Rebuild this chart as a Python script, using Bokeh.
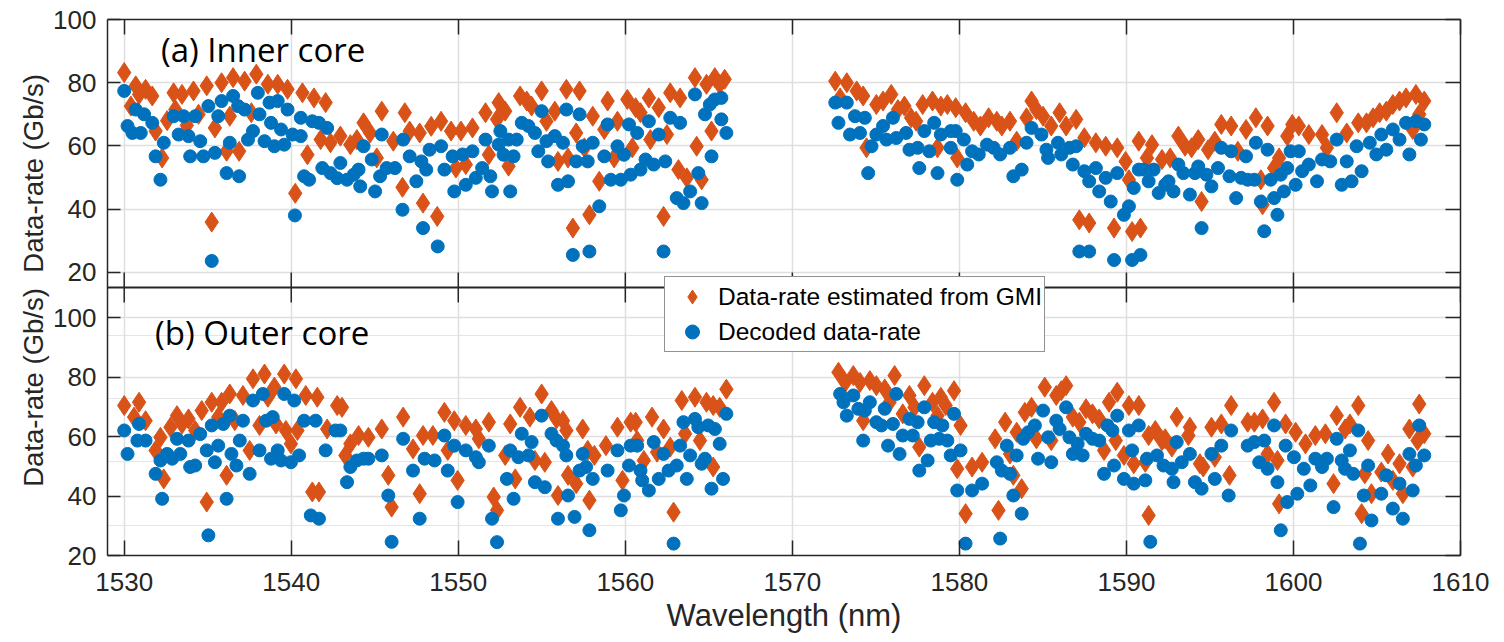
from math import pi
from bokeh.plotting import figure
from bokeh.layouts import row
from bokeh.models import (Range1d, LinearAxis, FixedTicker, CustomJSTickFormatter,
                          CustomLabelingPolicy, Grid, Span, Label, Legend, LegendItem)
from bokeh.core.properties import value
from bokeh.embed import file_html
from bokeh.resources import INLINE

# ------------------------------------------------------------------ data
x_ticks = [1530, 1540, 1550, 1560, 1570, 1580, 1590, 1600, 1610]
y_ticks = [20, 40, 60, 80, 100]
panel_titles = ["(a) Inner core", "(b) Outer core"]
legend_labels = ["Data-rate estimated from GMI", "Decoded data-rate"]
x_title = "Wavelength (nm)"
y_title = "Data-rate (Gb/s)"

# (a) inner core - data-rate estimated from GMI
inner_gmi_wl = [
    1530.00, 1530.40, 1530.69, 1530.89, 1531.28, 1531.68, 1531.88, 1532.27, 1532.57, 1532.96,
    1533.06, 1533.46, 1533.75, 1534.15, 1534.45, 1534.94, 1535.24, 1535.43, 1535.83, 1536.13,
    1536.32, 1536.52, 1536.88, 1537.21, 1537.61, 1537.91, 1538.60, 1539.19, 1539.78, 1540.24,
    1540.67, 1540.97, 1541.36, 1541.76, 1542.06, 1542.35, 1542.94, 1543.54, 1543.93, 1544.33,
    1544.72, 1545.12, 1545.42, 1546.11, 1546.66, 1546.80, 1547.09, 1547.69, 1547.89, 1548.38,
    1548.74, 1548.97, 1549.57, 1549.86, 1550.16, 1550.45, 1550.85,
    1551.63, 1551.83, 1552.32, 1552.42, 1552.81, 1553.01, 1553.70, 1554.10, 1554.39, 1554.99,
    1555.28, 1555.78, 1555.97, 1556.47, 1556.57, 1556.86, 1557.06, 1557.26, 1557.55, 1557.85,
    1558.05, 1558.44, 1558.74, 1558.94, 1559.33, 1559.53, 1560.12, 1560.42, 1560.62, 1560.91,
    1561.41, 1561.50, 1562.00, 1562.29, 1562.49, 1562.69, 1563.18, 1563.28, 1563.68, 1564.17,
    1564.27, 1564.57, 1564.86, 1565.16, 1565.36, 1565.65, 1565.95,
    1572.57, 1572.86, 1573.26, 1573.85, 1574.24, 1574.44, 1575.03, 1575.43, 1575.92, 1576.32,
    1576.71, 1577.11, 1577.41, 1577.80, 1578.39, 1578.69, 1578.89, 1579.28, 1579.78, 1579.87,
    1580.37, 1580.86, 1581.26, 1581.75, 1582.24, 1582.54, 1583.03, 1583.43, 1584.02, 1584.32,
    1584.61, 1585.01, 1585.50, 1586.00, 1586.39, 1586.99, 1587.18, 1587.48, 1587.77, 1588.17,
    1588.76, 1589.26, 1589.45, 1589.95, 1590.15, 1590.34, 1590.74, 1590.84, 1591.23,
    1591.53, 1592.13, 1592.62, 1593.11, 1593.51, 1593.90, 1594.30, 1594.50, 1594.89, 1595.29,
    1595.68, 1596.27, 1596.67, 1597.16, 1597.75, 1598.05, 1598.15, 1598.45, 1598.84, 1599.14,
    1599.63, 1599.93, 1600.32, 1600.92, 1601.71, 1602.00, 1602.59, 1603.19, 1603.88, 1604.37,
    1604.77, 1605.16, 1605.56, 1605.95, 1606.35, 1606.74, 1607.14, 1607.33, 1607.53, 1607.83,
]
inner_gmi_rate = [
    83.2, 72.6, 79.0, 76.3, 77.9, 75.8, 64.7, 56.2, 68.0, 76.8,
    71.5, 76.3, 66.5, 77.4, 70.0, 79.0, 35.9, 65.7, 80.0, 58.3,
    69.4, 81.6, 58.3, 80.5, 70.5, 82.7, 79.5, 79.5, 77.9, 45.0,
    76.8, 57.2, 75.2, 62.0, 73.7, 61.0, 63.1, 60.4, 62.0, 67.3,
    64.1, 56.2, 71.0, 61.5, 46.9, 70.5, 64.7, 64.1, 41.9, 66.2,
    37.7, 67.8, 64.7, 53.0, 64.7, 54.1, 65.7,
    70.5, 57.2, 68.4, 73.7, 71.0, 53.6, 75.8, 74.2, 72.6, 77.4,
    67.8, 71.0, 55.1, 77.9, 56.2, 34.0, 64.1, 77.4, 59.4, 38.2,
    69.4, 48.8, 65.2, 74.2, 56.2, 67.8, 74.7, 59.4, 72.1, 70.5,
    75.2, 62.0, 72.1, 37.7, 63.6, 76.8, 52.5, 75.2, 49.9, 81.6,
    59.9, 49.3, 79.5, 64.7, 81.6, 79.5, 81.1,
    80.5, 75.2, 80.0, 77.4, 75.8, 59.4, 73.1, 74.2, 76.3, 71.5,
    72.6, 68.9, 67.8, 73.1, 74.2, 59.4, 72.6, 73.1, 72.1, 56.2,
    70.5, 67.8, 66.3, 68.9, 67.8, 66.3, 67.8, 61.5, 68.9, 74.2,
    71.5, 69.4, 66.3, 70.5, 66.3, 68.4, 36.6, 62.6, 35.6, 61.0,
    59.9, 34.0, 59.4, 55.1, 49.3, 32.9, 61.5, 34.0, 56.2,
    60.4, 55.7, 56.2, 63.1, 59.9, 59.4, 62.0, 42.4, 58.8, 61.5,
    66.8, 66.3, 58.3, 65.2, 68.9, 49.3, 41.4, 66.3, 53.0, 56.2,
    63.1, 66.8, 66.3, 63.6, 63.6, 59.4, 70.5, 64.1, 67.3, 67.3,
    68.9, 70.5, 71.0, 73.1, 74.2, 75.2, 65.2, 76.3, 70.0, 74.2,
]

# (a) inner core - decoded data-rate
inner_dec_wl = [
    1530.00, 1530.20, 1530.49, 1530.69, 1530.99, 1531.19, 1531.68, 1531.88, 1532.17, 1532.37,
    1532.96, 1533.26, 1533.56, 1533.85, 1533.95, 1534.25, 1534.55, 1534.74, 1535.04, 1535.24,
    1535.43, 1535.63, 1535.83, 1536.13, 1536.32, 1536.52, 1536.82, 1536.88, 1537.21, 1537.41,
    1537.71, 1538.00, 1538.10, 1538.40, 1538.70, 1538.79, 1538.99, 1539.19, 1539.39, 1539.58,
    1539.78, 1540.08, 1540.22, 1540.57, 1540.57, 1540.77, 1541.07, 1541.26, 1541.66, 1542.15,
    1541.86, 1542.35, 1542.94, 1542.75, 1543.34, 1543.74, 1544.03, 1544.33, 1544.13, 1544.82,
    1545.02, 1545.42, 1545.32, 1545.71, 1546.21, 1546.70, 1546.66, 1547.09, 1547.49, 1547.79,
    1548.08, 1547.89, 1548.28, 1548.77, 1548.97, 1549.17, 1549.66, 1549.76, 1550.26, 1550.45,
    1550.85, 1551.05,
    1551.43, 1551.63, 1551.92, 1552.02, 1552.52, 1552.42, 1552.71, 1553.11, 1553.31, 1553.01,
    1553.50, 1553.80, 1554.20, 1554.59, 1554.79, 1554.99, 1555.38, 1555.28, 1555.78, 1556.27,
    1555.97, 1556.47, 1556.57, 1556.86, 1557.06, 1557.26, 1557.45, 1557.75, 1557.85, 1558.05,
    1558.44, 1558.74, 1558.94, 1559.13, 1559.53, 1559.73, 1559.92, 1560.22, 1560.32, 1560.71,
    1560.91, 1561.21, 1561.41, 1561.70, 1562.00, 1562.29, 1562.39, 1562.69, 1563.28, 1563.08,
    1563.48, 1563.88, 1564.17, 1564.37, 1564.57, 1564.77, 1565.06, 1565.16, 1565.36, 1565.75,
    1565.75, 1566.05,
    1572.57, 1573.26, 1572.76, 1573.45, 1573.75, 1574.05, 1574.34, 1574.54, 1574.74, 1575.03,
    1575.43, 1575.63, 1576.02, 1576.22, 1576.81, 1577.01, 1577.50, 1577.60, 1577.90, 1578.20,
    1578.49, 1578.69, 1578.89, 1579.48, 1579.48, 1579.87, 1579.78, 1580.27, 1580.47, 1580.76,
    1581.16, 1581.65, 1582.05, 1582.44, 1583.03, 1583.23, 1583.73, 1584.02, 1584.32, 1584.91,
    1585.21, 1585.31, 1585.90, 1586.10, 1586.59, 1586.99, 1586.79, 1587.18, 1587.77, 1587.48,
    1587.77, 1588.17, 1588.37, 1588.76, 1589.06, 1589.26, 1589.45, 1589.85, 1590.15, 1590.34,
    1590.44, 1590.84, 1590.74, 1591.33,
    1591.04, 1591.63, 1591.93, 1592.32, 1592.52, 1592.82, 1593.11, 1593.41, 1593.80, 1594.10,
    1594.30, 1594.50, 1594.79, 1595.09, 1595.48, 1595.68, 1596.17, 1596.27, 1596.57, 1596.87,
    1597.16, 1597.26, 1597.66, 1597.75, 1598.05, 1598.25, 1598.45, 1598.64, 1598.84, 1599.04,
    1599.24, 1599.43, 1599.63, 1599.83, 1600.13, 1600.32, 1600.52, 1600.92, 1601.41, 1601.71,
    1602.20, 1602.59, 1602.89, 1603.19, 1603.48, 1603.78, 1604.08, 1604.57, 1604.96, 1605.26,
    1605.56, 1605.95, 1606.35, 1606.74, 1606.94, 1607.33, 1607.63, 1607.83,
]
inner_dec_rate = [
    77.4, 66.3, 64.1, 71.5, 64.1, 70.0, 67.3, 56.7, 49.3, 61.0,
    69.4, 63.6, 69.4, 63.1, 56.7, 69.4, 61.5, 56.7, 72.6, 23.6,
    57.8, 69.4, 74.2, 51.4, 61.0, 75.8, 72.6, 50.4, 71.5, 62.0,
    64.7, 76.8, 70.0, 61.5, 73.7, 67.3, 59.9, 74.2, 65.2, 60.4,
    71.5, 63.6, 38.0, 63.1, 68.9, 50.4, 49.3, 67.8, 67.3, 65.7,
    53.0, 51.4, 54.6, 49.8, 49.3, 50.9, 52.5, 59.9, 47.2, 55.7,
    45.6, 63.6, 50.4, 53.0, 53.0, 62.0, 39.8, 56.7, 48.8, 55.1,
    52.5, 34.0, 58.8, 28.2, 59.9, 52.5, 56.7, 45.6, 57.3, 47.7,
    58.3, 49.9,
    53.0, 62.0, 50.4, 45.6, 64.7, 60.4, 57.2, 45.6, 56.7, 62.0,
    62.0, 67.3, 66.3, 64.1, 58.3, 71.0, 55.1, 61.5, 63.1, 61.0,
    47.7, 71.5, 48.8, 25.5, 55.1, 70.0, 59.9, 55.1, 26.6, 61.0,
    40.9, 56.7, 66.8, 49.3, 59.9, 49.3, 57.2, 66.8, 50.9, 64.1,
    52.5, 55.7, 67.8, 54.1, 63.6, 26.6, 55.1, 68.9, 67.3, 43.5,
    41.9, 45.6, 76.3, 51.4, 41.9, 70.0, 73.1, 56.7, 74.7, 75.2,
    68.4, 64.1,
    73.7, 73.7, 67.3, 63.6, 69.4, 64.1, 68.9, 51.4, 59.9, 63.6,
    66.3, 62.0, 68.9, 62.5, 64.1, 58.8, 59.4, 53.0, 64.7, 58.3,
    67.3, 51.4, 63.6, 64.7, 59.4, 49.3, 64.7, 62.0, 54.1, 58.3,
    57.3, 60.4, 59.4, 57.3, 59.4, 50.4, 52.5, 61.0, 65.7, 63.6,
    58.8, 56.2, 61.0, 57.3, 59.4, 59.9, 54.1, 26.6, 26.6, 52.0,
    48.8, 53.0, 45.6, 49.9, 42.4, 23.9, 51.4, 38.2, 40.9, 23.9,
    46.7, 25.5, 52.5, 48.8,
    52.5, 52.5, 45.1, 47.7, 48.8, 45.6, 54.1, 51.4, 44.6, 51.4,
    53.5, 34.0, 50.9, 47.2, 53.0, 59.4, 50.4, 58.3, 43.5, 49.9,
    56.7, 49.3, 49.3, 61.0, 42.4, 33.0, 58.8, 49.3, 43.5, 38.2,
    50.9, 45.6, 53.0, 58.3, 47.7, 58.3, 52.0, 54.1, 48.8, 55.7,
    55.1, 62.0, 47.7, 55.1, 48.8, 59.9, 52.0, 61.0, 57.3, 63.6,
    58.8, 65.2, 62.0, 67.3, 57.3, 67.8, 62.0, 66.8,
]

# (b) outer core - data-rate estimated from GMI
outer_gmi_wl = [
    1530.00, 1530.59, 1530.89, 1531.28, 1531.88, 1532.17, 1532.37, 1532.77, 1533.16, 1533.46,
    1533.85, 1534.25, 1534.64, 1534.94, 1535.24, 1535.63, 1535.83, 1536.13, 1536.32, 1536.62,
    1537.11, 1537.51, 1537.71, 1538.10, 1538.40, 1538.60, 1538.99, 1539.09, 1539.58, 1539.68,
    1539.98, 1540.28, 1540.37, 1540.87, 1541.26, 1541.56, 1541.66, 1542.15, 1542.75, 1543.04,
    1543.24, 1543.54, 1544.03, 1544.62, 1545.42, 1545.81, 1546.01, 1546.70, 1547.29, 1547.69,
    1547.89, 1548.48, 1549.17, 1549.37, 1549.76, 1549.96, 1550.45, 1551.05,
    1551.23, 1551.83, 1552.12, 1552.32, 1552.81, 1553.11, 1553.41, 1553.70, 1554.29, 1554.59,
    1554.99, 1555.18, 1555.58, 1555.88, 1555.97, 1556.27, 1556.47, 1556.57, 1557.06, 1557.45,
    1557.75, 1557.85, 1558.15, 1558.84, 1559.53, 1559.83, 1560.32, 1560.62, 1560.71, 1561.11,
    1561.60, 1561.90, 1562.29, 1562.69, 1562.89, 1563.38, 1563.58, 1564.17, 1564.47, 1564.86,
    1565.26, 1565.26, 1565.65, 1566.05,
    1572.76, 1573.16, 1573.65, 1574.05, 1574.24, 1574.64, 1575.03, 1575.53, 1575.82, 1576.12,
    1576.61, 1577.01, 1577.31, 1577.60, 1577.90, 1578.39, 1578.69, 1578.89, 1579.18, 1579.68,
    1580.07, 1579.87, 1580.37, 1580.76, 1581.36, 1582.14, 1582.34, 1582.74, 1583.03, 1583.23,
    1583.43, 1583.73, 1583.92, 1584.32, 1584.61, 1585.11, 1585.50, 1585.80, 1586.10, 1586.39,
    1586.79, 1587.18, 1587.58, 1587.97, 1588.37, 1588.66, 1588.96, 1589.36, 1589.45, 1589.85,
    1590.15, 1590.44, 1590.74, 1591.13, 1591.33, 1591.33,
    1591.73, 1592.13, 1592.32, 1592.72, 1593.01, 1593.71, 1593.80, 1594.40, 1594.60, 1595.09,
    1595.29, 1595.68, 1596.17, 1596.27, 1597.26, 1597.66, 1598.15, 1598.45, 1598.84, 1599.04,
    1599.14, 1599.53, 1600.13, 1600.72, 1601.31, 1601.91, 1602.40, 1602.59, 1603.09, 1603.38,
    1603.88, 1604.08, 1604.27, 1604.47, 1604.67, 1605.26, 1605.66, 1605.95, 1606.35, 1606.55,
    1606.94, 1607.14, 1607.53, 1607.43, 1607.83,
]
outer_gmi_rate = [
    70.5, 66.6, 71.6, 65.4, 55.4, 59.8, 45.8, 63.2, 67.1, 64.3,
    66.0, 62.1, 68.8, 38.0, 71.6, 66.6, 71.6, 47.0, 74.4, 65.4,
    73.9, 55.4, 79.5, 63.8, 81.1, 73.3, 76.7, 64.3, 81.1, 62.1,
    57.6, 79.5, 62.1, 73.9, 41.4, 73.3, 41.4, 62.6, 70.5, 69.9,
    53.7, 57.6, 60.4, 59.8, 62.6, 47.0, 36.3, 66.6, 55.9, 40.8,
    60.4, 60.4, 68.2, 55.4, 65.4, 45.3, 63.8, 62.6,
    59.3, 64.9, 39.7, 35.2, 53.7, 64.3, 45.8, 69.9, 66.6, 52.0,
    74.4, 51.4, 68.8, 66.0, 40.2, 65.4, 62.1, 47.0, 44.2, 62.6,
    55.4, 38.6, 53.7, 57.0, 63.2, 45.3, 64.9, 64.9, 58.7, 52.0,
    66.6, 54.8, 62.6, 56.5, 34.6, 72.2, 61.0, 73.3, 58.7, 71.6,
    70.5, 49.8, 69.9, 76.0,
    81.7, 78.3, 80.6, 78.3, 65.4, 78.9, 77.2, 76.1, 71.6, 80.6,
    67.7, 73.9, 69.9, 56.5, 77.2, 71.6, 67.1, 73.3, 70.5, 75.5,
    63.8, 49.2, 34.1, 49.8, 51.4, 59.3, 35.2, 64.9, 54.2, 47.0,
    61.5, 42.5, 68.2, 69.9, 59.3, 76.7, 58.7, 73.9, 75.5, 77.2,
    66.6, 64.9, 69.4, 67.7, 66.0, 55.4, 71.6, 58.7, 75.0, 53.7,
    70.5, 50.9, 70.5, 51.4, 33.5, 60.4,
    62.1, 58.7, 59.3, 56.5, 66.6, 60.4, 63.2, 50.9, 49.8, 63.2,
    53.1, 64.3, 47.0, 70.5, 64.9, 64.9, 66.0, 54.2, 71.6, 52.0,
    37.4, 64.3, 61.5, 57.6, 60.4, 61.0, 44.2, 67.1, 62.6, 64.3,
    70.5, 34.1, 47.5, 58.7, 40.8, 48.1, 54.2, 45.3, 50.9, 40.8,
    62.6, 49.8, 71.0, 58.7, 61.0,
]

# (b) outer core - decoded data-rate
outer_dec_wl = [
    1530.00, 1530.20, 1530.79, 1530.89, 1531.28, 1531.88, 1532.27, 1532.17, 1532.57, 1532.87,
    1533.16, 1533.36, 1533.85, 1533.95, 1534.25, 1534.55, 1534.94, 1535.04, 1535.24, 1535.43,
    1535.63, 1535.93, 1536.13, 1536.32, 1536.42, 1536.72, 1536.92, 1537.11, 1537.51, 1537.71,
    1538.10, 1538.30, 1538.50, 1538.89, 1538.79, 1539.19, 1539.39, 1539.58, 1539.98, 1540.18,
    1540.47, 1540.77, 1541.17, 1541.46, 1541.66, 1542.06, 1542.65, 1542.94, 1543.34, 1543.54,
    1543.93, 1544.33, 1544.62, 1545.42, 1545.81, 1546.01, 1546.70, 1547.29, 1547.69, 1547.98,
    1548.58, 1549.17, 1549.37, 1549.76, 1549.96, 1550.45, 1551.05,
    1551.23, 1551.83, 1552.02, 1552.32, 1552.91, 1553.11, 1553.31, 1553.60, 1553.80, 1554.20,
    1554.39, 1554.59, 1554.99, 1555.18, 1555.58, 1555.88, 1555.97, 1556.27, 1556.47, 1556.57,
    1556.96, 1557.26, 1557.45, 1557.65, 1557.85, 1558.05, 1558.94, 1559.53, 1559.73, 1559.92,
    1560.22, 1560.32, 1560.71, 1560.91, 1561.01, 1561.41, 1561.70, 1562.00, 1562.29, 1562.59,
    1562.89, 1563.08, 1563.28, 1563.48, 1563.68, 1563.88, 1564.17, 1564.37, 1564.57, 1564.77,
    1564.96, 1565.16, 1565.36, 1565.65, 1565.85, 1566.05,
    1572.86, 1573.06, 1573.26, 1573.65, 1573.95, 1574.34, 1574.64, 1574.24, 1575.03, 1575.33,
    1575.53, 1575.73, 1576.02, 1576.22, 1576.42, 1576.61, 1577.01, 1577.21, 1577.50, 1577.60,
    1577.90, 1578.10, 1578.29, 1578.49, 1578.79, 1578.98, 1579.28, 1579.48, 1579.68, 1580.07,
    1579.87, 1580.37, 1580.76, 1581.36, 1582.24, 1582.44, 1582.54, 1582.84, 1583.03, 1583.23,
    1583.43, 1583.73, 1583.82, 1584.12, 1584.52, 1584.71, 1585.01, 1585.31, 1585.50, 1585.80,
    1586.00, 1586.39, 1586.59, 1586.79, 1587.08, 1587.38, 1587.58, 1587.97, 1588.37, 1588.66,
    1588.86, 1589.16, 1589.26, 1589.45, 1589.85, 1590.15, 1590.34, 1590.44, 1590.74, 1591.13,
    1591.23, 1591.43,
    1591.83, 1592.22, 1592.72, 1592.82, 1593.01, 1593.31, 1593.80, 1594.10, 1594.50, 1595.09,
    1595.29, 1595.68, 1596.12, 1596.27, 1597.26, 1597.66, 1597.95, 1598.25, 1598.45, 1598.84,
    1599.04, 1599.24, 1599.53, 1599.63, 1600.03, 1600.23, 1600.62, 1601.01, 1601.31, 1601.71,
    1602.00, 1602.40, 1602.59, 1602.89, 1603.09, 1603.38, 1603.58, 1603.88, 1603.98, 1604.21,
    1604.47, 1604.67, 1605.26, 1605.56, 1605.95, 1606.35, 1606.55, 1606.94, 1607.14, 1607.33,
    1607.53, 1607.83,
]
outer_dec_rate = [
    62.1, 54.2, 58.7, 64.3, 58.7, 47.5, 39.1, 52.0, 54.2, 52.6,
    59.3, 54.2, 58.7, 49.8, 50.3, 60.9, 55.4, 26.8, 63.8, 51.4,
    57.0, 64.3, 39.1, 67.1, 54.2, 50.3, 58.7, 65.4, 47.5, 72.2,
    55.4, 74.4, 65.4, 66.6, 52.6, 55.4, 52.0, 74.4, 51.4, 72.2,
    53.7, 65.4, 33.5, 65.4, 32.4, 55.4, 62.1, 62.1, 44.7, 49.8,
    52.0, 52.6, 52.6, 53.7, 40.2, 24.6, 59.3, 48.6, 32.4, 52.6,
    52.0, 60.4, 48.6, 57.0, 38.0, 55.4, 53.1,
    51.4, 57.0, 32.4, 24.5, 45.8, 55.4, 39.1, 53.1, 61.0, 53.7,
    58.2, 44.7, 67.1, 43.0, 61.0, 58.7, 32.4, 57.0, 53.7, 40.2,
    33.0, 48.6, 54.2, 49.8, 28.5, 45.8, 48.6, 55.4, 35.2, 40.2,
    50.3, 57.0, 57.0, 48.6, 45.3, 41.9, 58.2, 45.8, 54.2, 48.6,
    24.0, 50.3, 57.0, 64.9, 45.8, 53.7, 66.0, 63.2, 50.9, 52.6,
    63.8, 42.5, 62.6, 57.6, 45.8, 67.7,
    74.4, 71.6, 67.1, 73.9, 69.4, 68.8, 71.6, 58.7, 64.9, 63.8,
    69.4, 57.0, 64.3, 74.4, 54.2, 60.4, 66.0, 60.4, 64.9, 48.6,
    69.9, 52.0, 58.7, 64.9, 59.3, 63.8, 58.7, 53.7, 67.7, 55.4,
    41.9, 24.0, 41.9, 44.2, 51.4, 25.7, 48.6, 57.0, 47.5, 40.2,
    53.7, 34.1, 59.3, 61.5, 63.8, 52.6, 68.8, 59.8, 51.4, 65.4,
    62.6, 69.9, 59.8, 54.2, 57.6, 53.7, 61.0, 59.3, 58.7, 47.5,
    63.8, 62.1, 50.3, 67.1, 45.8, 62.1, 55.4, 44.2, 63.8, 45.3,
    52.6, 24.6,
    53.7, 50.3, 49.2, 44.7, 58.2, 51.4, 54.2, 44.7, 42.5, 54.2,
    45.8, 57.0, 40.2, 62.1, 57.0, 58.2, 51.4, 58.7, 49.2, 63.8,
    44.7, 28.5, 57.0, 38.0, 53.1, 40.8, 49.2, 43.6, 52.6, 49.8,
    52.6, 36.3, 59.3, 52.0, 49.2, 55.4, 47.5, 62.1, 24.0, 40.2,
    50.3, 31.8, 40.8, 47.0, 35.8, 44.2, 32.4, 54.2, 41.9, 50.3,
    63.8, 53.7,
]

# ------------------------------------------------------------------ layout / style
X_LO, X_HI = 1529.0, 1610.0
TOP_LO, TOP_HI = 15.2, 100.0      # panel (a) value range
BOT_LO, BOT_HI = 20.0, 110.25     # panel (b) value range
H = 641
LAB_W = 50                        # strip holding the two rotated y-axis titles
W = 1442
B_LEFT, B_TOP, B_RIGHT, B_BOTTOM = 55, 19, 20, 86
FRAME_H = H - B_TOP - B_BOTTOM
HALF_H = FRAME_H / 2.0
DARK = "#262626"
ORANGE = "#D95319"
BLUE = "#0072BD"
GRIDC = "#dfdfdf"
TICK_FONT = "Liberation Sans"
TICK_SIZE = "26px"
TICK_LEN = 15

# both panels share one frame: primary range -> panel (a) in the upper half,
# extra range "bot" -> panel (b) in the lower half
P_LO = TOP_LO - (TOP_HI - TOP_LO)
B_HI_EXT = BOT_HI + (BOT_HI - BOT_LO)

p = figure(width=W, height=H, output_backend="svg", toolbar_location=None,
           x_range=Range1d(X_LO, X_HI), y_range=Range1d(P_LO, TOP_HI),
           x_axis_location=None, y_axis_location=None,
           min_border_left=B_LEFT, min_border_right=B_RIGHT,
           min_border_top=B_TOP, min_border_bottom=B_BOTTOM)
p.extra_y_ranges = {"bot": Range1d(BOT_LO, B_HI_EXT)}
p.outline_line_color = None
p.background_fill_color = "white"
p.border_fill_color = "white"

x_ticker = FixedTicker(ticks=x_ticks)
left_ticks = list(y_ticks) + [P_LO + (b - BOT_LO) / (BOT_HI - BOT_LO) * (TOP_LO - P_LO)
                              for b in y_ticks]
y_ticker = FixedTicker(ticks=left_ticks)

y_fmt = CustomJSTickFormatter(args=dict(split=TOP_LO, plo=P_LO, blo=BOT_LO, bhi=BOT_HI), code="""
if (tick >= split) { return Math.round(tick).toString(); }
const f = (tick - plo) / (split - plo);
return Math.round(blo + f * (bhi - blo)).toString();
""")
no_labels = CustomLabelingPolicy(code="""
for (const i of indices) { indices.unset(i) }
return indices
""")


def style_axis(ax, labels=True):
    ax.axis_line_color = DARK
    ax.axis_line_width = 1.5
    ax.major_tick_line_color = DARK
    ax.major_tick_line_width = 1.5
    ax.major_tick_in = TICK_LEN
    ax.major_tick_out = 0
    ax.minor_tick_in = 0
    ax.minor_tick_out = 0
    ax.major_label_text_color = DARK
    ax.major_label_text_font = TICK_FONT
    ax.major_label_text_font_size = TICK_SIZE
    if not labels:
        ax.major_label_policy = no_labels
        ax.major_label_text_font_size = "8px"
        ax.major_label_standoff = 0


xb = LinearAxis(ticker=x_ticker, axis_label=x_title)
style_axis(xb)
xb.major_label_standoff = 17
xb.axis_label_standoff = 4
xb.axis_label_text_font = TICK_FONT
xb.axis_label_text_font_size = "31px"
xb.axis_label_text_font_style = "normal"
xb.axis_label_text_color = DARK
p.add_layout(xb, "below")

xt = LinearAxis(ticker=x_ticker)
style_axis(xt, labels=False)
p.add_layout(xt, "above")

yl = LinearAxis(ticker=y_ticker, formatter=y_fmt)
style_axis(yl)
yl.major_tick_in = 13
yl.major_label_standoff = 11
p.add_layout(yl, "left")

yr = LinearAxis(ticker=y_ticker)
style_axis(yr, labels=False)
p.add_layout(yr, "right")

p.add_layout(Grid(dimension=0, ticker=x_ticker, grid_line_color=GRIDC, grid_line_width=1.5))
p.add_layout(Grid(dimension=1, ticker=y_ticker, grid_line_color=GRIDC, grid_line_width=1.5))

# separator between the panels and its tick marks
p.add_layout(Span(location=TOP_LO, dimension="width", line_color=DARK, line_width=1.8))
dv_top = TICK_LEN * (TOP_HI - TOP_LO) / HALF_H
dv_bot = TICK_LEN * (BOT_HI - BOT_LO) / HALF_H
p.segment(x0=x_ticks, x1=x_ticks, y0=[TOP_LO] * len(x_ticks), y1=[TOP_LO + dv_top] * len(x_ticks),
          line_color=DARK, line_width=1.5)
p.segment(x0=x_ticks, x1=x_ticks, y0=[BOT_HI] * len(x_ticks), y1=[BOT_HI - dv_bot] * len(x_ticks),
          line_color=DARK, line_width=1.5, y_range_name="bot")

# data marks
r_gmi_a = p.scatter(inner_gmi_wl, inner_gmi_rate, marker="diamond", size=20,
                    fill_color=ORANGE, line_color=ORANGE, line_width=1)
r_gmi_b = p.scatter(outer_gmi_wl, outer_gmi_rate, marker="diamond", size=20,
                    fill_color=ORANGE, line_color=ORANGE, line_width=1, y_range_name="bot")
r_dec_a = p.scatter(inner_dec_wl, inner_dec_rate, marker="circle", size=13,
                    fill_color=BLUE, line_color=BLUE, line_width=1)
r_dec_b = p.scatter(outer_dec_wl, outer_dec_rate, marker="circle", size=13,
                    fill_color=BLUE, line_color=BLUE, line_width=1, y_range_name="bot")

# panel titles
p.add_layout(Label(x=1532.2, y=90.5, text=panel_titles[0], text_font="Open Sans",
                   text_font_size="33px", text_color="black", text_baseline="alphabetic"))
p.add_layout(Label(x=1531.85, y=95.0, text=panel_titles[1], text_font="Open Sans",
                   text_font_size="33px", text_color="black", text_baseline="alphabetic",
                   y_range_name="bot"))

legend = Legend(items=[LegendItem(label=legend_labels[0], renderers=[r_gmi_a]),
                       LegendItem(label=legend_labels[1], renderers=[r_dec_a])],
                location=(557, 203), margin=0, padding=2, spacing=0,
                glyph_width=50, glyph_height=35, label_height=35, label_standoff=1,
                label_text_font=TICK_FONT, label_text_font_size="24.5px",
                label_text_color="black", border_line_color=DARK, border_line_width=1.5,
                background_fill_color="white", background_fill_alpha=1.0)
p.add_layout(legend)

# left strip with the two rotated y-axis titles (canvas pixel coordinates)
lab = figure(width=LAB_W, height=H, output_backend="svg", toolbar_location=None,
             x_range=Range1d(0, LAB_W), y_range=Range1d(0, H),
             x_axis_location=None, y_axis_location=None,
             min_border_left=0, min_border_right=0, min_border_top=0, min_border_bottom=0)
lab.outline_line_color = None
lab.grid.visible = False
lab.border_fill_color = "white"
lab.text(x=[33, 33], y=[H - 184, H - 440], text=[y_title, y_title], angle=pi / 2,
         text_align="center", text_baseline="middle", text_font=value(TICK_FONT),
         text_font_size=value("27.5px"), text_color=DARK)

layout = row(lab, p)
open("out.html", "w").write(file_html(layout, INLINE))
